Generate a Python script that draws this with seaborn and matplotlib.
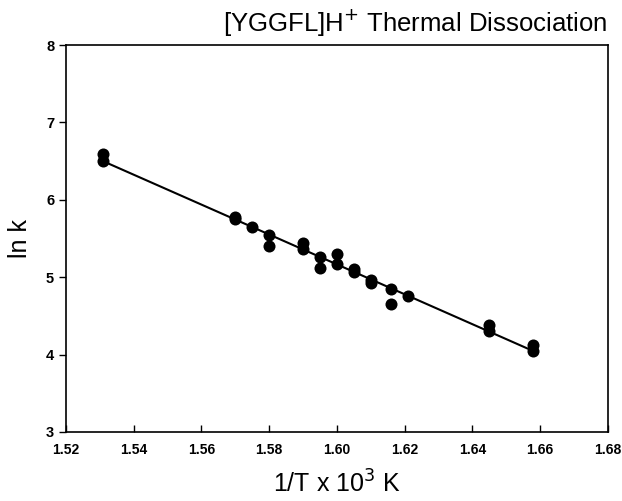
import numpy as np
import pandas as pd
import matplotlib
matplotlib.use("Agg")
import matplotlib.pyplot as plt
import seaborn as sns

# data
inv_T = [1.531, 1.531, 1.570, 1.570, 1.575, 1.580, 1.580, 1.590, 1.590,
         1.595, 1.595, 1.600, 1.600, 1.605, 1.605, 1.610, 1.610, 1.616,
         1.616, 1.621, 1.645, 1.645, 1.658, 1.658]
ln_k = [6.59, 6.50, 5.78, 5.75, 5.65, 5.55, 5.40, 5.44, 5.37,
        5.26, 5.12, 5.30, 5.17, 5.10, 5.07, 4.96, 4.92, 4.85,
        4.65, 4.75, 4.38, 4.30, 4.12, 4.05]
x_ticks = [1.52, 1.54, 1.56, 1.58, 1.60, 1.62, 1.64, 1.66, 1.68]
y_ticks = [3, 4, 5, 6, 7, 8]

df = pd.DataFrame({"inv_T": inv_T, "ln_k": ln_k})

sns.set_style("ticks")
plt.rcParams["font.family"] = ["Liberation Sans", "DejaVu Sans"]
plt.rcParams.update({"text.color": "black", "axes.labelcolor": "black",
                     "xtick.color": "black", "ytick.color": "black"})

fig = plt.figure(figsize=(6.22, 5.01), dpi=100)
ax = fig.add_axes([0.106, 0.138, 0.8715, 0.772])

sns.regplot(data=df, x="inv_T", y="ln_k", ax=ax, ci=None, truncate=True,
            scatter_kws=dict(s=75, color="black", edgecolor="black", linewidths=0, alpha=1),
            line_kws=dict(color="black", lw=1.5))

ax.set_xlim(1.52, 1.68)
ax.set_ylim(3, 8)
ax.set_xticks(x_ticks)
ax.set_yticks(y_ticks)
ax.set_xticklabels([f"{v:.2f}" for v in x_ticks], fontweight="bold", fontsize=10)
ax.set_yticklabels([str(v) for v in y_ticks], fontweight="bold", fontsize=10.5)
ax.tick_params(axis="x", direction="in", length=5, width=1, pad=8)
ax.tick_params(axis="y", direction="out", length=5, width=1)
for s in ax.spines.values():
    s.set_linewidth(1.2)
    s.set_color("black")

ax.set_xlabel("1/T x 10$^{3}$ K", fontsize=18, labelpad=10)
ax.set_ylabel("ln k", fontsize=18, labelpad=10)
fig.text(0.976, 0.936, "[YGGFL]H$^{+}$ Thermal Dissociation", ha="right", va="baseline",
         fontsize=18.5)

fig.savefig("out.png", dpi=100, facecolor="white")
